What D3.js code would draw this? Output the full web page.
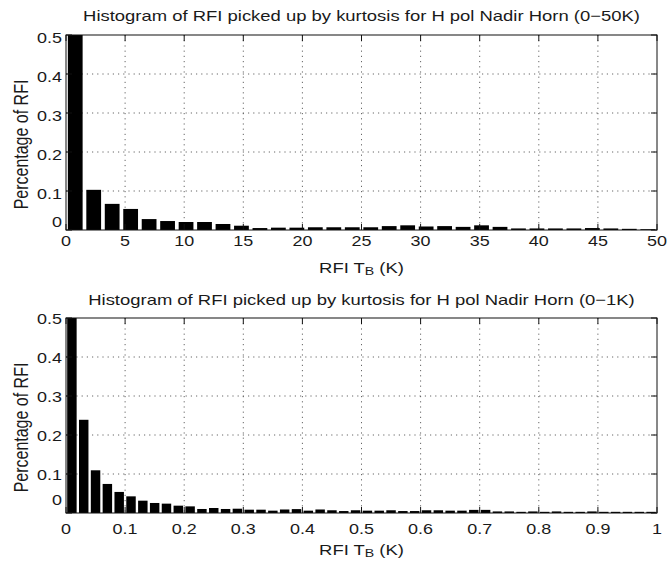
<!DOCTYPE html>
<html>
<head>
<meta charset="utf-8">
<script src="https://cdn.jsdelivr.net/npm/d3@7"></script>
<style>
  html, body { margin: 0; padding: 0; background: #fff; }
  svg { display: block; }
  text { font-family: "Liberation Sans", Arial, sans-serif; fill: #1a1a1a; }
</style>
</head>
<body>
<svg id="chart" width="668" height="563"></svg>
<script>
// Histogram of RFI brightness temperature, 0–50 K range (32 bins)
const wideTitle = "Histogram of RFI picked up by kurtosis for H pol Nadir Horn (0\u221250K)";
const wideBinWidth = 50 / 32;
const wideValues = [
  0.56, 0.103, 0.067, 0.054, 0.028, 0.023, 0.0205, 0.0205,
  0.0154, 0.011, 0.005, 0.006, 0.006, 0.007, 0.007, 0.007,
  0.007, 0.010, 0.012, 0.009, 0.010, 0.008, 0.012, 0.008,
  0.004, 0.004, 0.004, 0.004, 0.005, 0.004, 0.003, 0.002
];
const wideXTicks = [0, 5, 10, 15, 20, 25, 30, 35, 40, 45, 50];

// Histogram of RFI brightness temperature, 0–1 K range (50 bins)
const narrowTitle = "Histogram of RFI picked up by kurtosis for H pol Nadir Horn (0\u22121K)";
const narrowBinWidth = 0.02;
const narrowValues = [
  0.56, 0.239, 0.1095, 0.0745, 0.054, 0.0427, 0.0316, 0.0257, 0.024, 0.0188,
  0.017, 0.0103, 0.0128, 0.0103, 0.011, 0.0085, 0.0085, 0.006, 0.009, 0.010,
  0.006, 0.009, 0.007, 0.005, 0.007, 0.006, 0.006, 0.007, 0.005, 0.005,
  0.007, 0.007, 0.006, 0.006, 0.008, 0.008, 0.004, 0.004, 0.003, 0.004,
  0.003, 0.004, 0.003, 0.003, 0.004, 0.003, 0.003, 0.003, 0.003, 0.003
];
const narrowXTicks = [0, 0.1, 0.2, 0.3, 0.4, 0.5, 0.6, 0.7, 0.8, 0.9, 1];

const yTicks = [0, 0.1, 0.2, 0.3, 0.4, 0.5];
const yLabel = "Percentage of RFI";

// glyphs are drawn slightly wide
const STRETCH = 1.23;

const svg = d3.select("#chart");

function wideText(sel, x, y, anchor, size) {
  return sel.append("text")
    .attr("transform", `translate(${x},${y}) scale(${STRETCH},1)`)
    .attr("text-anchor", anchor)
    .attr("font-size", size);
}

function panel(cfg) {
  const { id, left, right, top, bottom, xMax, binWidth, values, xTicks, title,
          titleY, xTickY, xLabelY, yTickDy, zeroDy } = cfg;

  const x = d3.scaleLinear().domain([0, xMax]).range([left, right]);
  const y = d3.scaleLinear().domain([0, 0.5]).range([bottom, top]);
  const g = svg.append("g");

  g.append("clipPath").attr("id", id)
    .append("rect").attr("x", left).attr("y", top)
    .attr("width", right - left).attr("height", bottom - top);

  // dotted grid
  const grid = g.append("g").attr("stroke", "#555").attr("stroke-width", 0.9)
    .attr("stroke-dasharray", "1.2,4");
  grid.selectAll("line.gx").data(xTicks.slice(1, -1)).join("line")
    .attr("x1", d => x(d)).attr("x2", d => x(d))
    .attr("y1", top).attr("y2", bottom);
  grid.selectAll("line.gy").data(yTicks.slice(1, -1)).join("line")
    .attr("x1", left).attr("x2", right)
    .attr("y1", d => y(d)).attr("y2", d => y(d));

  // bars (width 0.8 of the bin, centred)
  const bins = values.map((v, i) => ({ x0: i * binWidth, v }));
  g.append("g").attr("clip-path", `url(#${id})`)
    .selectAll("rect").data(bins).join("rect")
    .attr("x", d => x(d.x0 + binWidth * 0.1))
    .attr("width", d => x(d.x0 + binWidth * 0.9) - x(d.x0 + binWidth * 0.1))
    .attr("y", d => y(d.v))
    .attr("height", d => y(0) - y(d.v))
    .attr("fill", "#000");

  // axes box
  g.append("rect").attr("x", left).attr("y", top)
    .attr("width", right - left).attr("height", bottom - top)
    .attr("fill", "none").attr("stroke", "#111").attr("stroke-width", 1);

  // inward tick marks on all four sides
  const tl = 6;
  const ticks = g.append("g").attr("stroke", "#111").attr("stroke-width", 1);
  xTicks.forEach(t => {
    ticks.append("line").attr("x1", x(t)).attr("x2", x(t)).attr("y1", bottom).attr("y2", bottom - tl);
    ticks.append("line").attr("x1", x(t)).attr("x2", x(t)).attr("y1", top).attr("y2", top + tl);
  });
  yTicks.forEach(t => {
    ticks.append("line").attr("x1", left).attr("x2", left + tl).attr("y1", y(t)).attr("y2", y(t));
    ticks.append("line").attr("x1", right).attr("x2", right - tl).attr("y1", y(t)).attr("y2", y(t));
  });

  // tick labels
  const fmt = d3.format("~g");
  xTicks.forEach(t => {
    wideText(g, x(t), xTickY, "middle", 14.6).text(fmt(t));
  });
  yTicks.forEach(t => {
    wideText(g, left - 4, y(t) + (t === 0 ? zeroDy : yTickDy), "end", 14.6)
      .attr("dominant-baseline", "middle").text(fmt(t));
  });

  // title
  wideText(g, (left + right) / 2, titleY, "middle", 15).text(title);

  // x label with subscript B
  const xl = wideText(g, (left + right) / 2, xLabelY, "middle", 15);
  xl.append("tspan").text("RFI T");
  xl.append("tspan").attr("font-size", 11.5).attr("dy", 2).text("B");
  xl.append("tspan").attr("dy", -2).text(" (K)");

  // y label
  const cy = (top + bottom) / 2 + 12;
  g.append("text")
    .attr("transform", `translate(28,${cy}) scale(${STRETCH},1) rotate(-90)`)
    .attr("text-anchor", "middle").attr("font-size", 16).text(yLabel);
}

panel({
  id: "clipWide", left: 66, right: 657, top: 35, bottom: 230,
  xMax: 50, binWidth: wideBinWidth, values: wideValues, xTicks: wideXTicks,
  title: wideTitle, titleY: 21, xTickY: 246, xLabelY: 273, yTickDy: 4, zeroDy: -7
});

panel({
  id: "clipNarrow", left: 66, right: 657, top: 318, bottom: 513,
  xMax: 1, binWidth: narrowBinWidth, values: narrowValues, xTicks: narrowXTicks,
  title: narrowTitle, titleY: 305, xTickY: 534, xLabelY: 555, yTickDy: 2, zeroDy: -12
});
</script>
</body>
</html>
